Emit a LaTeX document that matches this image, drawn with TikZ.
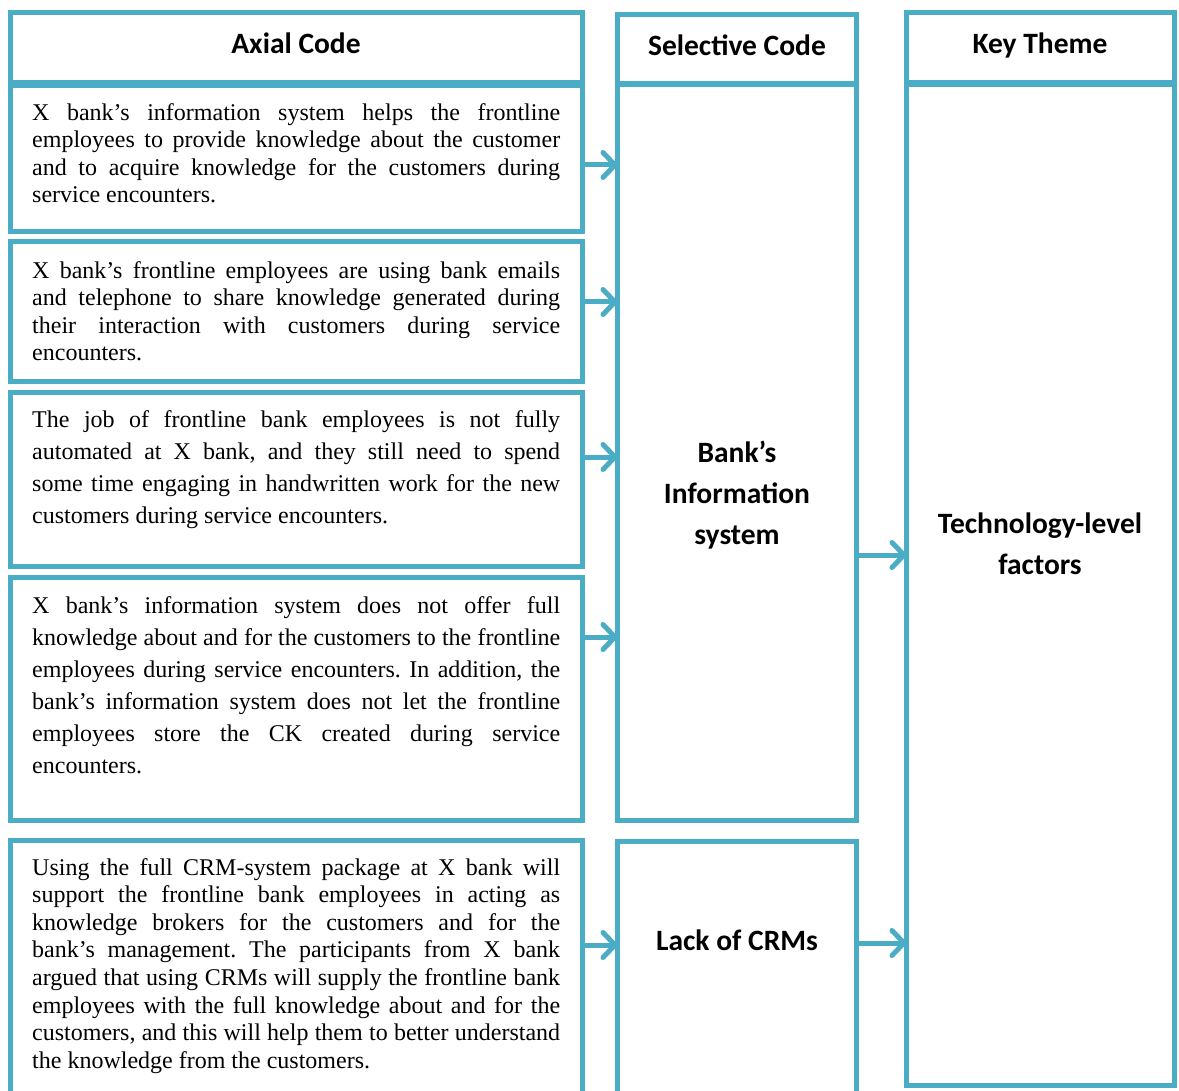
\documentclass[tikz,border=0pt]{standalone}
\usepackage{fontspec}
\setmainfont{Liberation Serif}
\newfontfamily\hdfont{Carlito}
\usetikzlibrary{arrows.meta}
\definecolor{aqua}{HTML}{4BACC6}
\hyphenpenalty=10000
\exhyphenpenalty=10000
\frenchspacing
\tikzset{
  frame/.style={draw=aqua, line width=5pt, inner sep=0pt, outer sep=0pt, anchor=north west},
  bodytxt/.style={inner sep=0pt, anchor=north west, text width=528pt, align=justify,
    font=\fontsize{24}{27.6}\selectfont},
  bodywide/.style={bodytxt, font=\fontsize{24}{32}\selectfont},
  headtxt/.style={font=\hdfont\bfseries\fontsize{29.5}{41}\selectfont, inner sep=0pt, align=center},
  arr/.style={draw=aqua, line width=5pt, -{Straight Barb[length=12pt,width=25pt,round]}},
}
\begin{document}
\begin{tikzpicture}[x=1pt,y=-1pt]
\clip (0,0) rectangle (1179,1091);
\fill[white] (0,0) rectangle (1179,1091);
% Axial column
\node[frame, minimum width=572pt, minimum height=70pt] (axh) at (10.5,12.5) {};
\node[frame, minimum width=572pt, minimum height=146pt] (b1) at (10.5,85.5) {};
\node[frame, minimum width=572pt, minimum height=140pt] (b2) at (10.5,242) {};
\node[frame, minimum width=572pt, minimum height=174pt] (b3) at (10.5,392.5) {};
\node[frame, minimum width=572pt, minimum height=243pt] (b4) at (10.5,577.5) {};
\node[frame, minimum width=572pt, minimum height=280pt] (b5) at (10.5,840) {};
% Selective column
\node[frame, minimum width=239pt, minimum height=69pt] (selh) at (617.5,15) {};
\node[frame, minimum width=239pt, minimum height=735pt] (selb) at (617.5,85) {};
\node[frame, minimum width=239pt, minimum height=280pt] (lack) at (617.5,841) {};
% Key column
\node[frame, minimum width=268pt, minimum height=70pt] (keyh) at (906.5,12.5) {};
\node[frame, minimum width=268pt, minimum height=1000.5pt] (keyb) at (906.5,85) {};
% Headers
\node[headtxt] (taxh) at (296,43) {Axial Code};
\node[headtxt] (tselh) at (737,45) {Selective Code};
\node[headtxt] (tkeyh) at (1040,45.5) {Key Theme};
\node[headtxt] (tselb) at (737,495) {Bank’s\\Information\\system};
\node[headtxt] (tkeyb) at (1040,543.5) {Technology-level\\factors};
\node[headtxt] (tlack) at (737,940) {Lack of CRMs};
% Body texts
\node[bodytxt] (t1) at (32,100.5) {\strut X bank’s information system helps the frontline\linebreak employees to provide knowledge about the customer\linebreak and to acquire knowledge for the customers during\linebreak service encounters.};
\node[bodytxt] (t2) at (32,258.5) {\strut X bank’s frontline employees are using bank emails\linebreak and telephone to share knowledge generated during\linebreak their interaction with customers during service\linebreak encounters.};
\node[bodywide] (t3) at (32,405.4) {\strut The job of frontline bank employees is not fully\linebreak automated at X bank, and they still need to spend\linebreak some time engaging in handwritten work for the new\linebreak customers during service encounters.};
\node[bodywide] (t4) at (32,590.4) {\strut X bank’s information system does not offer full\linebreak knowledge about and for the customers to the frontline\linebreak employees during service encounters. In addition, the\linebreak bank’s information system does not let the frontline\linebreak employees store the CK created during service\linebreak encounters.};
\node[bodytxt] (t5) at (32,855.5) {\strut Using the full CRM-system package at X bank will\linebreak support the frontline bank employees in acting as\linebreak knowledge brokers for the customers and for the\linebreak bank’s management. The participants from X bank\linebreak argued that using CRMs will supply the frontline bank\linebreak employees with the full knowledge about and for the\linebreak customers, and this will help them to better understand\linebreak the knowledge from the customers.};
% Arrows
\draw[arr] (b1.east |- 0,165) -- (selb.west |- 0,165);
\draw[arr] (b2.east |- 0,302) -- (selb.west |- 0,302);
\draw[arr] (b3.east |- 0,457) -- (selb.west |- 0,457);
\draw[arr] (b4.east |- 0,637) -- (selb.west |- 0,637);
\draw[arr] (b5.east |- 0,945) -- (lack.west |- 0,945);
\draw[arr] (selb.east |- 0,555) -- (keyb.west |- 0,555);
\draw[arr] (lack.east |- 0,943) -- (keyb.west |- 0,943);
\end{tikzpicture}
\end{document}
